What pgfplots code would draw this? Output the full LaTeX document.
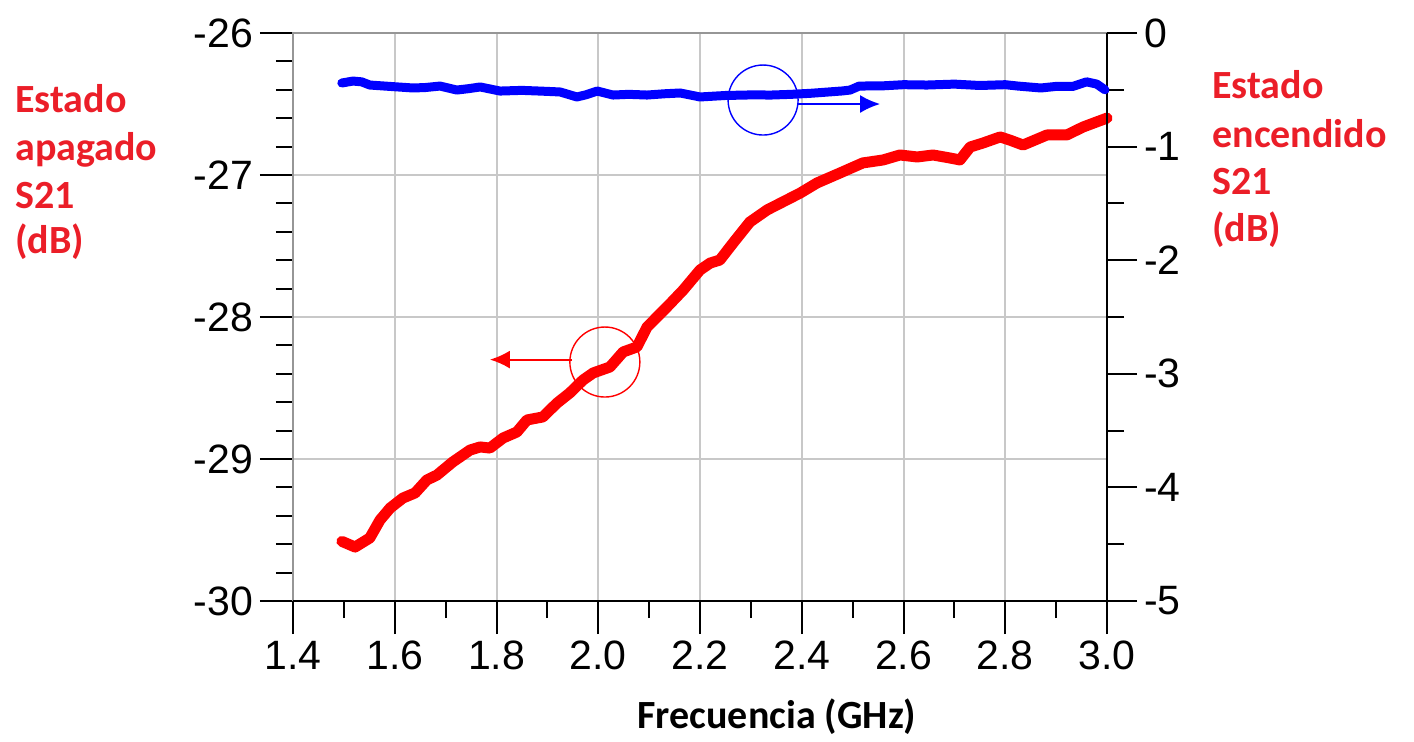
\documentclass[border=0pt]{standalone}
\usepackage{fontspec}
\setmainfont{Liberation Sans}
\newfontfamily\calib{Carlito}
\usepackage{pgfplots}
\pgfplotsset{compat=1.18}
\usetikzlibrary{arrows.meta}
\definecolor{lblred}{RGB}{235,30,40}
\definecolor{gridgray}{RGB}{200,200,200}
\definecolor{spinegray}{RGB}{150,150,150}

\begin{document}
\begin{tikzpicture}
\path[use as bounding box] (0,0) rectangle (707pt,370.5pt);
\begin{axis}[
  at={(146.5pt,70pt)}, anchor=south west,
  scale only axis, width=407pt, height=284pt,
  xmin=1.4, xmax=3.0, ymin=-30, ymax=-26,
  xtick={1.4,1.6,1.8,2.0,2.2,2.4,2.6,2.8,3.0},
  ytick={-30,-29,-28,-27,-26},
  minor x tick num=1, minor y tick num=4,
  xtick pos=bottom, ytick pos=left,
  tick align=outside,
  major tick length=16.5pt, minor tick length=8.5pt,
  every tick/.style={black, line width=1pt},
  axis line style={draw=none},
  grid=major,
  grid style={gridgray, line width=1pt},
  /pgf/number format/assume math mode=true,
  tick label style={font=\fontsize{20.5}{24}\selectfont},
  xticklabel style={/pgf/number format/.cd, fixed, fixed zerofill, precision=1},
  clip=false,
]
\draw[spinegray, line width=1pt] (rel axis cs:0,0) -- (rel axis cs:0,1) -- (rel axis cs:1,1);
\addplot[red, line width=5.5pt, line join=round, line cap=round] coordinates {
(1.496,-29.58) (1.522,-29.62) (1.551,-29.556) (1.571,-29.430) (1.591,-29.345)
(1.616,-29.275) (1.640,-29.239) (1.663,-29.148) (1.683,-29.113) (1.714,-29.021)
(1.748,-28.937) (1.768,-28.915) (1.787,-28.923) (1.813,-28.852) (1.840,-28.810)
(1.860,-28.725) (1.891,-28.704) (1.919,-28.606) (1.944,-28.535) (1.970,-28.444)
(1.990,-28.394) (2.023,-28.352) (2.049,-28.246) (2.076,-28.211) (2.096,-28.070)
(2.135,-27.930) (2.167,-27.810) (2.200,-27.669) (2.220,-27.620) (2.239,-27.599)
(2.265,-27.479) (2.298,-27.331) (2.332,-27.246) (2.397,-27.127) (2.430,-27.056)
(2.475,-26.986) (2.520,-26.915) (2.560,-26.894) (2.593,-26.859) (2.627,-26.873)
(2.658,-26.859) (2.691,-26.880) (2.711,-26.894) (2.731,-26.803) (2.756,-26.775)
(2.790,-26.732) (2.809,-26.754) (2.835,-26.789) (2.882,-26.718) (2.921,-26.718)
(2.953,-26.662) (3.000,-26.599)
};
\draw[red, line width=0.7pt] (axis cs:2.013,-28.317) circle[radius=17.5pt];
\draw[red, line width=1pt, -{Latex[length=10pt,width=9pt]}] (axis cs:1.948,-28.30) -- (axis cs:1.787,-28.30);
\draw[black, line width=1.3pt] (rel axis cs:0,0) -- (rel axis cs:1,0) -- (rel axis cs:1,1);
\end{axis}
\begin{axis}[
  at={(146.5pt,70pt)}, anchor=south west,
  scale only axis, width=407pt, height=284pt,
  xmin=1.4, xmax=3.0, ymin=-5, ymax=0,
  axis x line=none,
  axis y line*=right,
  ytick={-5,-4,-3,-2,-1,0},
  minor y tick num=1,
  tick align=outside,
  major tick length=15pt, minor tick length=8.5pt,
  every tick/.style={black, line width=1pt},
  axis line style={draw=none},
  /pgf/number format/assume math mode=true,
  tick label style={font=\fontsize{20.5}{24}\selectfont},
  clip=false,
]
\addplot[blue, line width=4.5pt, line join=round, line cap=round] coordinates {
(1.496,-0.440) (1.518,-0.423) (1.535,-0.430) (1.551,-0.458) (1.590,-0.470)
(1.636,-0.484) (1.660,-0.480) (1.689,-0.467) (1.722,-0.502) (1.745,-0.490)
(1.768,-0.475) (1.807,-0.511) (1.850,-0.505) (1.890,-0.512) (1.925,-0.519)
(1.958,-0.563) (1.975,-0.545) (1.998,-0.511) (2.029,-0.546) (2.060,-0.540)
(2.096,-0.546) (2.130,-0.535) (2.161,-0.528) (2.200,-0.563) (2.250,-0.550)
(2.300,-0.545) (2.340,-0.546) (2.379,-0.540) (2.420,-0.530) (2.480,-0.510)
(2.495,-0.502) (2.513,-0.467) (2.560,-0.465) (2.600,-0.455) (2.646,-0.458)
(2.700,-0.450) (2.750,-0.462) (2.800,-0.455) (2.825,-0.467) (2.870,-0.484)
(2.900,-0.470) (2.933,-0.470) (2.960,-0.430) (2.980,-0.450) (2.996,-0.500)
};
\draw[blue, line width=0.7pt] (axis cs:2.324,-0.59) circle[radius=17.5pt];
\draw[blue, line width=1pt, -{Latex[length=10pt,width=9pt]}] (axis cs:2.393,-0.625) -- (axis cs:2.554,-0.625);
\end{axis}
% side labels
\begin{scope}[every node/.style={inner sep=0pt, anchor=base west, text=lblred, font=\calib\bfseries\fontsize{20}{24}\selectfont}]
\node at (7.5pt,314pt) {Estado};
\node at (7.5pt,290.5pt) {apagado};
\node at (7.5pt,266.5pt) {S21};
\node at (7.5pt,244pt) {(dB)};
\node at (606pt,321pt) {Estado};
\node at (606pt,297pt) {encendido};
\node at (606pt,273.5pt) {S21};
\node at (606pt,250pt) {(dB)};
\end{scope}
\node[inner sep=0pt, anchor=base, font=\calib\bfseries\fontsize{20}{24}\selectfont] at (388.5pt,6.5pt) {Frecuencia (GHz)};
\end{tikzpicture}
\end{document}
